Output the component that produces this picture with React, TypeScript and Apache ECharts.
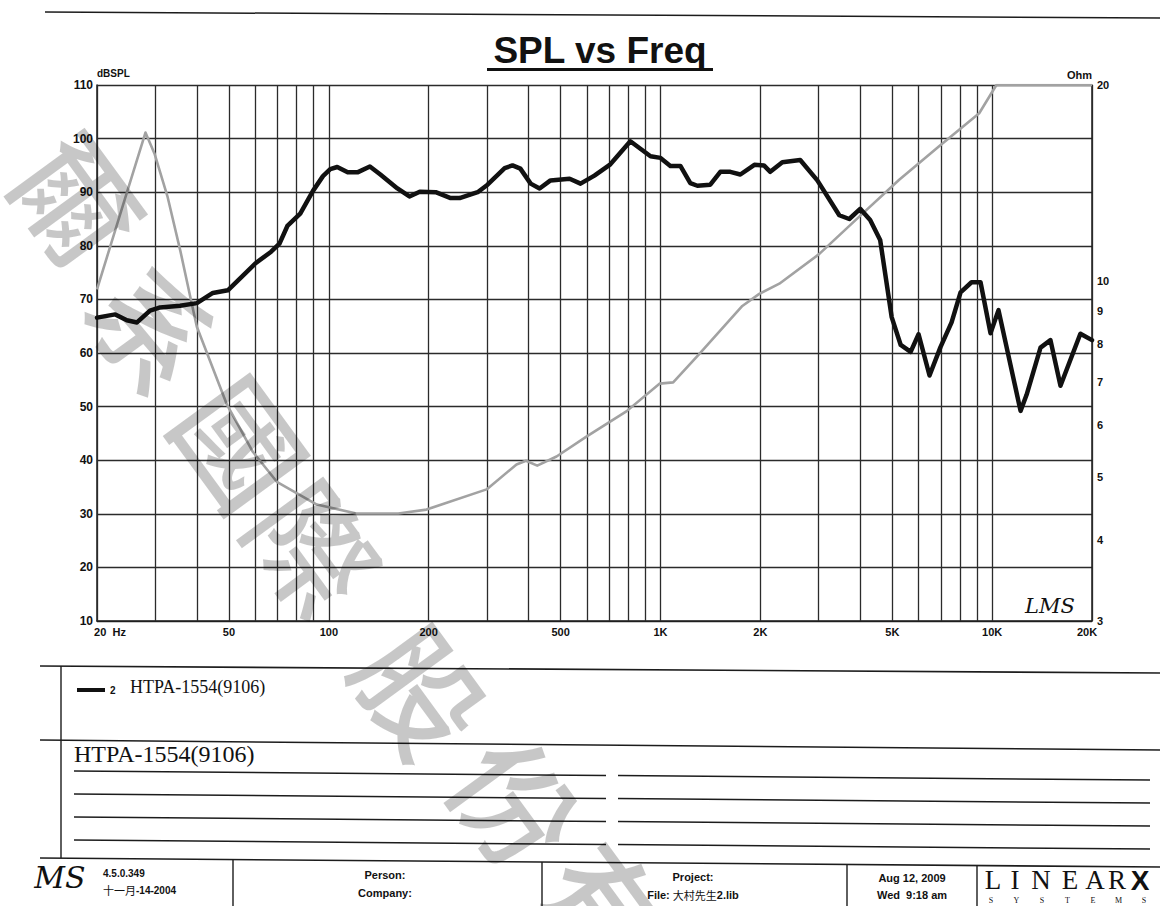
import React, { useEffect, useRef } from 'react';
import * as echarts from 'echarts';

const SANS = '"Liberation Sans", Arial, sans-serif';
const SERIF = '"Liberation Serif", "Times New Roman", serif';
const CJK = '"Noto Sans CJK TC", "Noto Sans CJK SC", sans-serif';

// SPL response (Hz, dB)
const freqSpl = [20, 22.7, 24.6, 26.4, 28.9, 31, 35.6, 40, 44.7, 49.6, 60, 67, 71, 75, 82, 89.5, 96, 101, 106, 114, 122, 133, 143, 161, 175, 188, 210, 233, 248, 281, 301, 339, 358, 378, 406, 432, 466, 532, 574, 632, 706, 811, 933, 1000, 1071, 1148, 1230, 1292, 1413, 1515, 1624, 1741, 1919, 2050, 2143, 2330, 2638, 2971, 3460, 3708, 4000, 4287, 4595, 4978, 5300, 5678, 6000, 6474, 6985, 7545, 8030, 8666, 9225, 9885, 10450, 12180, 12700, 13990, 14990, 16070, 18450, 20000];
const spl = [66.6, 67.2, 66.1, 65.7, 67.9, 68.5, 68.8, 69.3, 71.2, 71.7, 76.7, 78.9, 80.4, 83.7, 86.0, 90.2, 93.0, 94.3, 94.7, 93.7, 93.7, 94.8, 93.3, 90.7, 89.2, 90.1, 90.0, 88.9, 88.9, 90.0, 91.4, 94.5, 95.0, 94.4, 91.6, 90.7, 92.2, 92.5, 91.6, 93.1, 95.2, 99.5, 96.7, 96.4, 94.9, 94.9, 91.7, 91.2, 91.4, 93.8, 93.8, 93.3, 95.1, 95.0, 93.8, 95.6, 96.0, 92.2, 85.7, 85.0, 86.9, 84.8, 81.1, 66.7, 61.5, 60.2, 63.5, 55.8, 61.1, 65.7, 71.3, 73.2, 73.2, 63.7, 68.0, 49.2, 52.2, 61.0, 62.4, 53.9, 63.6, 62.4];

// Impedance (Hz, Ohm)
const freqImp = [20, 24.2, 28, 29.8, 32.6, 35.7, 38.3, 40, 49.3, 59, 69.7, 92, 121, 162, 197, 299, 368, 393, 425, 486, 598, 789, 993, 1092, 1310, 1765, 1985, 2282, 3013, 3975, 5245, 6920, 9140, 10300, 20000];
const imp = [9.7, 13.3, 16.9, 15.7, 13.5, 11.1, 9.4, 8.5, 6.45, 5.46, 4.91, 4.53, 4.39, 4.39, 4.45, 4.78, 5.22, 5.29, 5.2, 5.37, 5.76, 6.3, 6.95, 6.98, 7.72, 9.15, 9.55, 9.9, 11.0, 12.55, 14.3, 16.1, 18.1, 20, 20];

// Axis ticks / labels
const gridFreqs = [20, 30, 40, 50, 60, 70, 80, 90, 100, 200, 300, 400, 500, 600, 700, 800, 900, 1000, 2000, 3000, 4000, 5000, 6000, 7000, 8000, 9000, 10000, 20000];
const freqLabelValues = [20, 50, 100, 200, 500, 1000, 2000, 5000, 10000, 20000];
const freqLabelTexts = ['20  Hz', '50', '100', '200', '500', '1K', '2K', '5K', '10K', '20K'];
const ohmTicks = [3, 4, 5, 6, 7, 8, 9, 10, 20];

const seriesName = '2';
const deviceName = 'HTPA-1554(9106)';
const watermarkChars = ['爾', '系', '國', '際', '股', '份', '有'];
const watermarkPos = [[82, 196], [158, 325], [245, 440], [318, 545], [425, 688], [520, 800], [610, 905]];

const INK = '#1c1c1c';

function line(x1: number, y1: number, x2: number, y2: number, w = 1.5): any {
  return { type: 'line', silent: true, shape: { x1, y1, x2, y2 }, style: { stroke: INK, lineWidth: w } };
}
function text(t: string, x: number, y: number, font: string, align = 'left', extra: any = {}): any {
  return {
    type: 'text', silent: true, x, y, z: extra.z ?? 10, rotation: extra.rotation ?? 0,
    style: {
      text: t, font, fill: extra.fill ?? '#111', opacity: extra.opacity ?? 1,
      textAlign: align, textVerticalAlign: 'middle', align, verticalAlign: 'middle',
      rich: extra.rich,
    },
  };
}

export default function App() {
  const ref = useRef<HTMLDivElement>(null);
  useEffect(() => {
    if (!ref.current) return;
    const chart = echarts.init(ref.current, undefined, { renderer: 'svg' });

    const vData = gridFreqs.map((f) => {
      const li = freqLabelValues.indexOf(f);
      const item: any = { xAxis: f };
      if (li >= 0) {
        item.label = {
          show: true, position: 'start', formatter: freqLabelTexts[li], distance: 5,
          color: '#111', fontFamily: SANS, fontWeight: 'bold', fontSize: 11,
        };
        if (f === 20) item.label.padding = [0, 0, 0, 26];
        if (f === 20000) item.label.padding = [0, 10, 0, 0];
      } else {
        item.label = { show: false };
      }
      return item;
    });

    const hData = ohmTicks.map((v) => ({
      yAxis: v,
      label: {
        show: true, position: 'end', formatter: String(v), distance: 5,
        color: '#111', fontFamily: SANS, fontWeight: 'bold', fontSize: 11, padding: [7, 0, 0, 0],
      },
    }));

    const graphics: any[] = [];
    // page rules
    graphics.push(line(45, 12, 1160, 18, 1.5));
    // title
    graphics.push(text('SPL vs Freq', 600, 50, `bold 37px ${SANS}`, 'center'));
    graphics.push({ type: 'rect', silent: true, shape: { x: 487, y: 68, width: 226, height: 3 }, style: { fill: '#111' } });
    // LMS signature in plot
    graphics.push(text('LMS', 1050, 606, `italic 21px "DejaVu Serif", serif`, 'center'));
    // legend area
    graphics.push(line(40, 666, 1160, 673, 1.6));
    graphics.push(line(61, 666, 61, 858, 1.4));
    graphics.push(text(deviceName, 130, 687, `18px ${SERIF}`, 'left'));
    graphics.push(line(40, 740, 1160, 750, 1.5));
    graphics.push(text(deviceName, 74, 754, `24px ${SERIF}`, 'left'));
    [771, 794, 817, 840].forEach((y0) => {
      graphics.push(line(74, y0, 606, y0 + 4.5, 1.5));
      graphics.push(line(618, y0 + 4.6, 1150, y0 + 9, 1.5));
    });
    // footer
    graphics.push(line(40, 858, 1160, 867, 1.6));
    graphics.push(line(233, 859, 233, 906, 1.4));
    graphics.push(line(542, 862, 542, 906, 1.4));
    graphics.push(line(847, 865, 847, 906, 1.4));
    graphics.push(line(977, 866, 977, 906, 1.4));
    graphics.push(text('MS', 60, 877, `italic 30px "DejaVu Serif", serif`, 'center'));
    graphics.push(text('4.5.0.349', 103, 873, `bold 10px ${SANS}`, 'left'));
    graphics.push(text('{a|十一月}{b|-14-2004}', 103, 890, `bold 10px ${SANS}`, 'left', {
      rich: { a: { fontFamily: CJK, fontSize: 11, fontWeight: 'normal', fill: '#111' }, b: { fontFamily: SANS, fontSize: 10, fontWeight: 'bold', fill: '#111' } },
    }));
    graphics.push(text('Person:', 385, 875, `bold 11px ${SANS}`, 'center'));
    graphics.push(text('Company:', 385, 893, `bold 11px ${SANS}`, 'center'));
    graphics.push(text('Project:', 693, 877, `bold 11px ${SANS}`, 'center'));
    graphics.push(text('{a|File: }{b|大村先生}{a|2.lib}', 693, 895, `bold 11px ${SANS}`, 'center', {
      rich: { a: { fontFamily: SANS, fontSize: 11, fontWeight: 'bold', fill: '#111' }, b: { fontFamily: CJK, fontSize: 11, fontWeight: 'normal', fill: '#111' } },
    }));
    graphics.push(text('Aug 12, 2009', 912, 878, `bold 11px ${SANS}`, 'center'));
    graphics.push(text('Wed  9:18 am', 912, 895, `bold 11px ${SANS}`, 'center'));
    const logoLetters = ['L', 'I', 'N', 'E', 'A', 'R'];
    const logoX = [993, 1015, 1041, 1070, 1095, 1117];
    logoLetters.forEach((ch, i) => graphics.push(text(ch, logoX[i], 880, `27px ${SERIF}`, 'center')));
    graphics.push(text('X', 1140, 880, `bold 28px ${SANS}`, 'center'));
    const sysLetters = ['S', 'Y', 'S', 'T', 'E', 'M', 'S'];
    sysLetters.forEach((ch, i) => graphics.push(text(ch, 991 + i * 25.5, 900, `8px ${SERIF}`, 'center')));
    // watermark (translucent, so the dark marks show through like the scan)
    watermarkChars.forEach((ch, i) => {
      graphics.push(text(ch, watermarkPos[i][0], watermarkPos[i][1], `500 122px ${CJK}`, 'center', { fill: '#000000', opacity: 0.22, rotation: -0.94, z: 100 }));
    });

    chart.setOption({
      animation: false,
      backgroundColor: '#ffffff',
      grid: { left: 97, right: 68, top: 85, bottom: 285, containLabel: false },
      legend: {
        show: true, left: 72, top: 680, icon: 'rect', itemWidth: 28, itemHeight: 4, itemGap: 4,
        selectedMode: false, data: [seriesName],
        textStyle: { color: '#111', fontFamily: SANS, fontWeight: 'bold', fontSize: 10 },
      },
      xAxis: {
        type: 'log', logBase: 10, min: 20, max: 20000,
        axisLine: { show: true, lineStyle: { color: INK, width: 1.5 } },
        axisTick: { show: false }, axisLabel: { show: false },
        splitLine: { show: false }, minorTick: { show: false }, minorSplitLine: { show: false },
      },
      yAxis: [
        {
          type: 'value', min: 10, max: 110, interval: 10, position: 'left',
          name: 'dBSPL', nameLocation: 'end', nameGap: 7,
          nameTextStyle: { align: 'left', color: '#111', fontFamily: SANS, fontWeight: 'bold', fontSize: 10 },
          axisLine: { show: true, lineStyle: { color: INK, width: 1.5 } },
          axisTick: { show: false },
          axisLabel: { color: '#111', fontFamily: SANS, fontWeight: 'bold', fontSize: 12, margin: 4 },
          splitLine: { show: true, lineStyle: { color: '#2b2b2b', width: 1.3 } },
        },
        {
          type: 'log', logBase: 10, min: 3, max: 20, position: 'right',
          name: 'Ohm', nameLocation: 'end', nameGap: 5,
          nameTextStyle: { align: 'right', color: '#111', fontFamily: SANS, fontWeight: 'bold', fontSize: 11 },
          axisLine: { show: true, lineStyle: { color: INK, width: 1.5 } },
          axisTick: { show: false }, axisLabel: { show: false },
          splitLine: { show: false }, minorTick: { show: false }, minorSplitLine: { show: false },
        },
      ],
      series: [
        {
          name: seriesName, type: 'line', xAxisIndex: 0, yAxisIndex: 0, z: 10,
          symbol: 'none', silent: true,
          itemStyle: { color: '#111' },
          lineStyle: { color: '#111', width: 4.5, join: 'round', cap: 'round' },
          data: freqSpl.map((f, i) => [f, spl[i]]),
          markLine: {
            silent: true, symbol: ['none', 'none'], animation: false, z: 1,
            lineStyle: { color: '#2b2b2b', width: 1.3, type: 'solid' },
            label: { show: false },
            emphasis: { disabled: true },
            data: vData,
          },
        },
        {
          name: 'Impedance', type: 'line', xAxisIndex: 0, yAxisIndex: 1, z: 8,
          symbol: 'none', silent: true,
          itemStyle: { color: '#a2a2a2' },
          lineStyle: { color: '#a2a2a2', width: 2.6, join: 'round' },
          data: freqImp.map((f, i) => [f, imp[i]]),
          markLine: {
            silent: true, symbol: ['none', 'none'], animation: false, z: 1,
            lineStyle: { color: 'rgba(0,0,0,0)', width: 1, type: 'solid' },
            label: { show: true, color: '#111' },
            emphasis: { disabled: true },
            data: hData,
          },
        },
      ],
      graphic: { elements: graphics },
    });
    return () => chart.dispose();
  }, []);
  return <div ref={ref} style={{ position: 'absolute', left: 0, top: 0, width: 1160, height: 906, background: '#fff' }} />;
}
